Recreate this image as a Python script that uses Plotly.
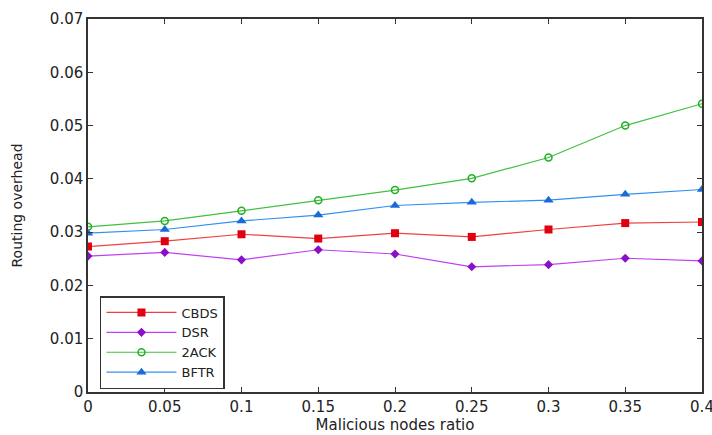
import plotly.graph_objects as go

x_vals = [0, 0.05, 0.1, 0.15, 0.2, 0.25, 0.3, 0.35, 0.4]
cbds = [0.0273, 0.0283, 0.0296, 0.0288, 0.0298, 0.0291, 0.0305, 0.0317, 0.0319]
dsr = [0.0255, 0.0262, 0.0248, 0.0267, 0.0259, 0.0235, 0.0239, 0.0251, 0.0246]
ack2 = [0.0310, 0.0321, 0.0340, 0.0360, 0.0379, 0.0401, 0.0440, 0.0500, 0.0541]
bftr = [0.0298, 0.0305, 0.0321, 0.0332, 0.0350, 0.0356, 0.0360, 0.0371, 0.0380]

x_ticks = [0, 0.05, 0.1, 0.15, 0.2, 0.25, 0.3, 0.35, 0.4]
x_ticklabels = ["0", "0.05", "0.1", "0.15", "0.2", "0.25", "0.3", "0.35", "0.4"]
y_ticks = [0, 0.01, 0.02, 0.03, 0.04, 0.05, 0.06, 0.07]
y_ticklabels = ["0", "0.01", "0.02", "0.03", "0.04", "0.05", "0.06", "0.07"]

FONT = "DejaVu Sans, Arial"

fig = go.Figure()
fig.add_trace(go.Scatter(x=x_vals, y=cbds, name="CBDS", mode="lines+markers",
                         line=dict(color="#f04040", width=1.2),
                         marker=dict(symbol="square", size=8, color="#e00010")))
fig.add_trace(go.Scatter(x=x_vals, y=dsr, name="DSR", mode="lines+markers",
                         line=dict(color="#c040f0", width=1.2),
                         marker=dict(symbol="diamond", size=7, color="#8a10c8")))
fig.add_trace(go.Scatter(x=x_vals, y=ack2, name="2ACK", mode="lines+markers",
                         line=dict(color="#40c040", width=1.2),
                         marker=dict(symbol="circle-open", size=7, color="#20b020",
                                     line=dict(width=1.5))))
fig.add_trace(go.Scatter(x=x_vals, y=bftr, name="BFTR", mode="lines+markers",
                         line=dict(color="#3090f0", width=1.2),
                         marker=dict(symbol="triangle-up", size=9, color="#1a6ad8")))

axis_common = dict(showgrid=False, zeroline=False, showline=True, linecolor="#333333",
                   linewidth=1.5, mirror="ticks", ticks="inside", ticklen=5,
                   tickcolor="#333333", automargin=False,
                   tickfont=dict(family=FONT, size=15, color="#222"))

fig.update_xaxes(range=[0, 0.4], tickvals=x_ticks, ticktext=x_ticklabels,
                 ticklabeloverflow="allow",
                 title=dict(text="Malicious nodes ratio", font=dict(family=FONT, size=15, color="#222"), standoff=4),
                 **axis_common)
fig.update_yaxes(range=[0, 0.07], tickvals=y_ticks, ticktext=y_ticklabels,
                 title=dict(text="Routing overhead", font=dict(family=FONT, size=14, color="#222"), standoff=24),
                 **axis_common)

fig.update_layout(
    width=712, height=435,
    margin=dict(l=88, r=10, t=19, b=43),
    paper_bgcolor="white", plot_bgcolor="white",
    font=dict(family=FONT, color="#222"),
    legend=dict(x=0.0195, y=0.008, xanchor="left", yanchor="bottom",
                bordercolor="#333333", borderwidth=1.5, bgcolor="white",
                font=dict(size=13, color="#222"), tracegroupgap=0,
                itemwidth=70),
    showlegend=True,
)

fig.write_html("out.html", config={"displayModeBar": False},
               post_script="document.body.style.margin='0';document.body.style.overflow='hidden';")
